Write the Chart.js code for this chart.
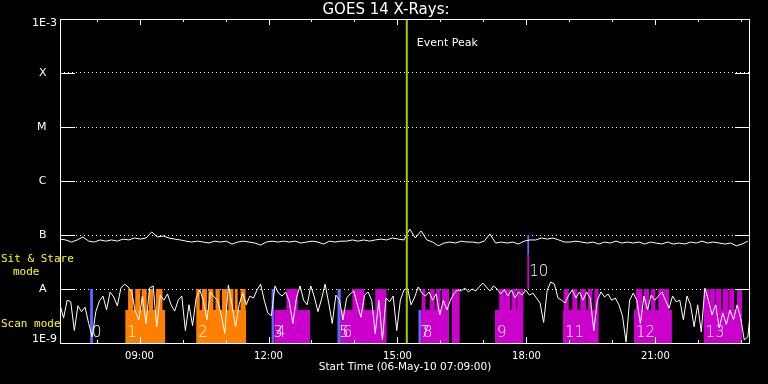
<!DOCTYPE html>
<html>
<head>
<meta charset="utf-8">
<title>GOES 14 X-Rays</title>
<script src="https://cdn.jsdelivr.net/npm/chart.js@4.4.0/dist/chart.umd.min.js"></script>
<style>
  html, body { margin: 0; padding: 0; background: #000; }
  #wrap { width: 768px; height: 384px; }
</style>
</head>
<body>
<div id="wrap"><canvas id="goes" width="768" height="384"></canvas></div>
<script>
// ---- values ----
const startTime = '07:09';
const endTime = '23:12';
const eventPeak = '15:13';

const levelValues = [1e-9, 1e-8, 1e-7, 1e-6, 1e-5, 1e-4, 1e-3];
const levelNames = ['1E-9', 'A', 'B', 'C', 'M', 'X', '1E-3'];
const hourLabels = ['09:00', '12:00', '15:00', '18:00', '21:00'];

// 1-8 A channel, one sample every 8 min from start, in 1e-8 W/m^2
const longStep = 8;
const longFlux = [
  8.4, 8.1, 7.4, 8.1, 9.2, 7.7, 7.4, 8.1, 7.7, 8.1,
  7.7, 8.4, 8.1, 8.8, 8.4, 8.8, 11.4, 9.2, 9.6, 8.8,
  8.4, 8.1, 7.7, 7.4, 7.7, 7.4, 7.1, 7.7, 7.4, 7.7,
  6.8, 7.4, 7.7, 7.4, 7.1, 6.5, 7.4, 7.7, 7.4, 7.7,
  7.4, 7.7, 7.1, 7.4, 7.7, 7.4, 6.8, 7.7, 7.4, 7.7,
  7.7, 8.1, 7.7, 8.1, 7.7, 8.1, 8.4, 8.1, 8.8, 8.4,
  8.1, 12.9, 8.8, 11.9, 8.1, 7.4, 6.3, 7.1, 7.4, 7.1,
  7.7, 7.4, 7.4, 7.1, 7.7, 10.4, 7.1, 7.4, 7.1, 7.4,
  6.8, 7.7, 8.1, 8.1, 8.8, 8.4, 8.8, 8.1, 7.4, 7.4,
  7.7, 7.4, 7.1, 7.4, 6.8, 7.4, 7.1, 7.7, 7.1, 7.4,
  7.1, 7.4, 6.8, 7.4, 7.1, 6.8, 7.4, 6.8, 7.1, 6.8,
  7.4, 7.1, 7.7, 7.1, 7.4, 7.1, 6.8, 7.1, 6.3, 6.8, 7.7
];

// 0.5-4 A channel, one sample every 5 min from start, in 1e-9 W/m^2
const shortStep = 5;
const shortFlux = [
  5.1, 2.9, 6.2, 5.8, 1.7, 4.9, 3.8, 4.6, 2.3, 1.3,
  3.8, 6.0, 7.4, 4.1, 8.8, 7.1, 4.9, 10.4, 12.3, 10.9,
  8.8, 3.9, 2.7, 7.4, 2.3, 10.4, 11.4, 2.0, 7.7, 6.2,
  8.1, 5.1, 3.9, 6.2, 7.4, 1.7, 5.1, 2.1, 6.8, 9.6,
  6.2, 2.7, 8.8, 7.1, 6.2, 3.3, 1.5, 11.9, 5.1, 2.0,
  5.1, 8.4, 5.1, 7.4, 6.8, 9.6, 12.3, 6.2, 3.6, 3.2,
  11.4, 8.4, 7.4, 8.8, 5.8, 2.3, 6.8, 11.4, 6.2, 5.1,
  11.4, 7.1, 3.8, 6.5, 12.3, 5.5, 2.3, 7.7, 6.2, 2.7,
  6.8, 8.1, 9.2, 5.1, 3.0, 7.7, 8.8, 6.2, 1.5, 6.2,
  1.14, 6.8, 5.8, 7.4, 1.7, 6.2, 9.6, 10.4, 5.1, 7.1,
  10.9, 8.4, 7.4, 8.8, 6.2, 8.1, 3.3, 6.2, 4.1, 6.2,
  8.4, 9.6, 9.2, 10.4, 8.8, 10, 9.2, 10.9, 12.9, 10.9,
  9.2, 11.4, 10, 8.1, 9.6, 7.4, 9.6, 6.8, 8.8, 7.7,
  9.6, 7.7, 8.4, 6.8, 5.5, 2.4, 9.6, 13.5, 12.3, 6.8,
  6.2, 5.5, 7.7, 9.6, 6.8, 8.8, 6.2, 8.8, 6.8, 1.7,
  6.2, 8.8, 7.1, 8.1, 6.2, 6.8, 5.1, 3.2, 1.04, 6.2,
  8.4, 6.2, 2.3, 7.4, 4.1, 7.7, 6.2, 7.4, 8.8, 6.2,
  4.4, 7.4, 5.8, 6.2, 2.7, 7.4, 5.1, 2.0, 5.1, 1.6,
  10.4, 6.2, 3.3, 5.1, 1.9, 3.6, 2.2, 4.1, 2.7, 5.1,
  2.9, 1.14, 1.3, 6.2
];

// scan (raster) blocks: body from 1E-9 to scanBody, raster steps up to level A
const scanBody = 4.1e-9;
const scanStart = ['08:40', '10:19', '12:08', '13:41', '15:33', '16:16', '17:16', '18:51', '20:30', '22:07'];
const scanEnd   = ['09:36', '11:29', '12:58', '14:45', '16:12', '16:27', '17:56', '19:41', '21:23', '23:01'];
const scanStudy = ['A', 'A', 'B', 'B', 'B', 'B', 'B', 'B', 'B', 'B'];

const rasterStart = [
  '08:44', '08:54', '09:03', '09:13', '09:23',
  '10:19', '10:27', '10:36', '10:46', '10:55', '11:04', '11:13', '11:21',
  '12:25',
  '13:57', '14:29',
  '15:34', '15:45', '15:54', '16:02',
  '16:16',
  '17:22', '17:30', '17:39', '17:47',
  '18:52', '19:04', '19:15', '19:26', '19:35',
  '20:33', '20:44', '20:54', '21:04', '21:12',
  '22:07', '22:16', '22:24', '22:34', '22:43', '22:54'
];
const rasterEnd = [
  '08:51', '09:01', '09:10', '09:19', '09:32',
  '10:24', '10:34', '10:43', '10:52', '11:02', '11:11', '11:17', '11:28',
  '12:41',
  '14:14', '14:45',
  '15:39', '15:52', '16:00', '16:12',
  '16:27',
  '17:29', '17:37', '17:46', '17:56',
  '18:59', '19:11', '19:23', '19:32', '19:41',
  '20:42', '20:51', '21:00', '21:12', '21:19',
  '22:15', '22:23', '22:32', '22:42', '22:50', '23:01'
];

// sit & stare runs
const stareStart = ['07:51', '12:04', '13:36', '15:29', '18:01'];
const stareEnd   = ['07:55', '12:08', '13:41', '15:33', '18:04'];
const stareLow   = [1e-9, 1e-9, 1e-9, 1e-9, 4.3e-8];
const stareHigh  = [1e-8, 1e-8, 1e-8, 4.1e-9, 1e-7];

// the short raised scan under run 10
const raisedStart = '18:01';
const raisedEnd = '18:04';
const raisedLow = 1e-8;
const raisedHigh = 4.3e-8;

const blockNames = ['0', '1', '2', '3', '4', '5', '6', '7', '8', '9', '10', '11', '12', '13'];
const blockTimes = ['07:51', '08:40', '10:19', '12:04', '12:08', '13:36', '13:41', '15:29', '15:33', '17:16', '18:01', '18:51', '20:30', '22:07'];

// ---- colours ----
const WHITE = '#ffffff';
const ORANGE = '#ff8000';
const MAGENTA = '#cc00cc';
const BLUE = '#6464ff';
const GREEN = '#a0d000';
const YELLOW = '#ffff00';
const NONE = 'rgba(0,0,0,0)';

const toHours = s => {
    const [h, m] = s.split(':').map(Number);
    return h + m / 60;
};
const t0 = toHours(startTime);

const longPoints = longFlux.map((v, i) => ({x: t0 + i * longStep / 60, y: v * 1e-8}));
const shortPoints = shortFlux.map((v, i) => ({x: t0 + i * shortStep / 60, y: v * 1e-9}));

function scanOutline(study) {
    const pts = [];
    scanStart.forEach((s, i) => {
        if (scanStudy[i] !== study) return;
        const a = toHours(s), b = toHours(scanEnd[i]);
        pts.push({x: a, y: scanBody});
        rasterStart.forEach((r, j) => {
            const r0 = toHours(r), r1 = toHours(rasterEnd[j]);
            if (r0 < a || r1 > b) return;
            pts.push({x: r0, y: scanBody}, {x: r0, y: levelValues[1]},
                     {x: r1, y: levelValues[1]}, {x: r1, y: scanBody});
        });
        pts.push({x: b, y: scanBody}, {x: b, y: null});
    });
    return pts;
}

function band(a, b, lo, hi, colour) {
    return {
        data: [{x: toHours(a), y: hi}, {x: toHours(b), y: hi}],
        borderColor: NONE, borderWidth: 0, backgroundColor: colour,
        fill: lo <= levelValues[0] ? 'start' : {value: lo},
        pointRadius: 0, order: 3
    };
}

const datasets = [
    {data: scanOutline('A'), borderColor: NONE, borderWidth: 0, backgroundColor: ORANGE,
     fill: 'start', pointRadius: 0, spanGaps: false, order: 3},
    {data: scanOutline('B'), borderColor: NONE, borderWidth: 0, backgroundColor: MAGENTA,
     fill: 'start', pointRadius: 0, spanGaps: false, order: 3},
    band(raisedStart, raisedEnd, raisedLow, raisedHigh, MAGENTA),
    ...stareStart.map((s, i) => band(s, stareEnd[i], stareLow[i], stareHigh[i], BLUE)),
    {data: longPoints, borderColor: WHITE, borderWidth: 1, pointRadius: 0, fill: false, order: 1},
    {data: shortPoints, borderColor: WHITE, borderWidth: 1, pointRadius: 0, fill: false, order: 1},
    {data: [{x: toHours(eventPeak), y: levelValues[0]}, {x: toHours(eventPeak), y: levelValues[6]}],
     borderColor: GREEN, borderWidth: 2, pointRadius: 0, fill: false, order: 0}
];

const overlay = {
    id: 'overlay',
    afterDatasetsDraw(chart) {
        const {ctx, chartArea: a, scales: {x, y}} = chart;
        ctx.save();
        ctx.strokeStyle = WHITE;
        ctx.lineWidth = 1;
        ctx.strokeRect(a.left + 0.5, a.top + 0.5, a.right - a.left - 1, a.bottom - a.top);

        // inward ticks
        ctx.beginPath();
        x.ticks.forEach(t => {
            const px = Math.round(x.getPixelForValue(t.value)) + 0.5;
            const len = t.value % 3 === 0 ? 6 : 3;
            ctx.moveTo(px, a.top); ctx.lineTo(px, a.top + len);
            ctx.moveTo(px, a.bottom); ctx.lineTo(px, a.bottom - len);
        });
        levelValues.slice(1, -1).forEach(v => {
            const py = Math.round(y.getPixelForValue(v)) + 0.5;
            ctx.moveTo(a.left, py); ctx.lineTo(a.left + 15, py);
            ctx.moveTo(a.right - 15, py); ctx.lineTo(a.right, py);
        });
        ctx.stroke();

        ctx.fillStyle = WHITE;

        // end labels of the flux axis sit inside the range
        ctx.font = '11px "DejaVu Sans"';
        ctx.textAlign = 'right';
        ctx.textBaseline = 'top';
        ctx.fillText(levelNames[6], a.left - 3, y.getPixelForValue(levelValues[6]) - 1);
        ctx.textBaseline = 'bottom';
        ctx.fillText(levelNames[0], a.left - 3, y.getPixelForValue(levelValues[0]) + 2);

        // title
        ctx.textBaseline = 'middle';
        ctx.textAlign = 'center';
        ctx.font = '15px "DejaVu Sans"';
        ctx.fillText('GOES 14 X-Rays:', chart.width / 2 + 2, 10);

        // event peak
        ctx.textAlign = 'left';
        ctx.font = '11px "DejaVu Sans"';
        ctx.fillText('Event Peak', x.getPixelForValue(toHours(eventPeak)) + 10, a.top + 24);

        // run numbers
        ctx.font = '300 15px "DejaVu Sans"';
        ctx.textBaseline = 'alphabetic';
        blockNames.forEach((n, i) => {
            const px = x.getPixelForValue(toHours(blockTimes[i])) + 2;
            if (blockTimes[i] === raisedStart) {
                ctx.textBaseline = 'middle';
                ctx.fillText(n, px, (y.getPixelForValue(raisedLow) + y.getPixelForValue(raisedHigh)) / 2);
                ctx.textBaseline = 'alphabetic';
            } else {
                ctx.fillText(n, px, a.bottom - 6);
            }
        });

        // mode captions
        ctx.fillStyle = YELLOW;
        ctx.textBaseline = 'middle';
        ctx.font = '11px "DejaVu Sans Mono"';
        ctx.fillText('Sit & Stare', 1, 259);
        ctx.fillText('mode', 13, 272);
        ctx.fillText('Scan mode', 1, 324);
        ctx.restore();
    }
};

const ctx = document.getElementById('goes').getContext('2d');
new Chart(ctx, {
    type: 'line',
    data: {datasets},
    options: {
        responsive: false,
        devicePixelRatio: 1,
        animation: false,
        events: [],
        layout: {padding: {top: 19, right: 18, bottom: 0, left: 0}},
        plugins: {legend: {display: false}, tooltip: {enabled: false}},
        elements: {line: {tension: 0}},
        scales: {
            x: {
                type: 'linear',
                min: toHours(startTime),
                max: toHours(endTime),
                afterBuildTicks: s => {
                    const ticks = [];
                    for (let h = Math.ceil(s.min); h <= s.max; h++) ticks.push({value: h});
                    s.ticks = ticks;
                },
                afterFit: s => { s.height = 41; },
                grid: {display: false},
                border: {display: false},
                ticks: {
                    color: WHITE,
                    font: {family: 'DejaVu Sans', size: 10},
                    padding: -1,
                    autoSkip: false,
                    maxRotation: 0,
                    callback: v => {
                        const lbl = String(v).padStart(2, '0') + ':00';
                        return hourLabels.includes(lbl) ? lbl : '';
                    }
                },
                title: {
                    display: true,
                    text: 'Start Time (06-May-10 07:09:00)',
                    color: WHITE,
                    font: {family: 'DejaVu Sans', size: 10.5},
                    padding: {top: 0, bottom: 10}
                }
            },
            y: {
                type: 'logarithmic',
                min: levelValues[0],
                max: levelValues[levelValues.length - 1],
                afterBuildTicks: s => { s.ticks = levelValues.map(v => ({value: v})); },
                afterFit: s => { s.width = 60; },
                grid: {color: WHITE, lineWidth: 1, drawTicks: false},
                border: {display: false, dash: [1, 3]},
                ticks: {
                    color: WHITE,
                    font: {family: 'DejaVu Sans', size: 11},
                    padding: 3,
                    autoSkip: false,
                    callback: v => {
                        const i = levelValues.findIndex(l => Math.abs(l - v) / l < 1e-6);
                        // the two end labels are drawn by the overlay plugin
                        if (i <= 0 || i === levelValues.length - 1) return '';
                        return levelNames[i] + '   ';
                    }
                }
            }
        }
    },
    plugins: [overlay]
});
</script>
</body>
</html>
